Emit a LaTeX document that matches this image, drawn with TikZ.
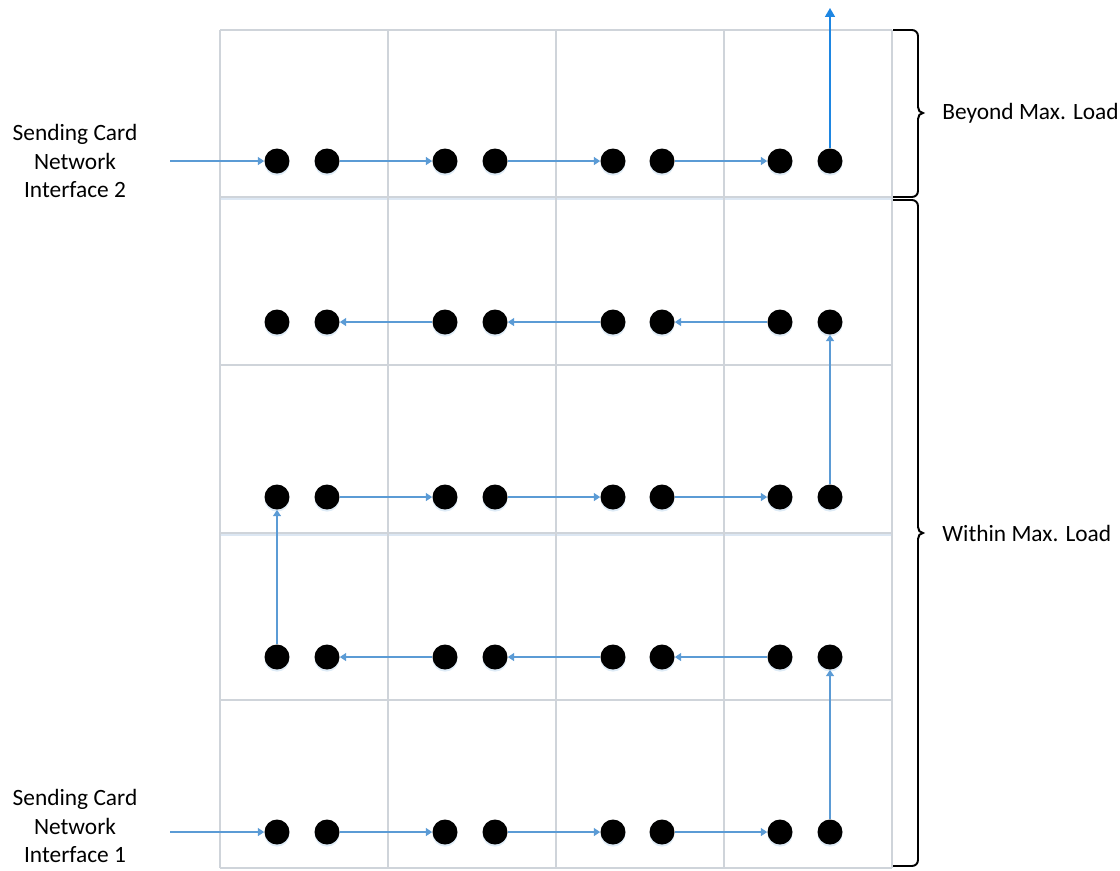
\documentclass[tikz,border=0pt]{standalone}
\usepackage{fontspec}
\setmainfont{Carlito}
\usetikzlibrary{positioning,arrows.meta,shadows}

\definecolor{gridline}{HTML}{CFD4DA}
\definecolor{glowline}{HTML}{DCE7F3}
\definecolor{flowblue}{HTML}{5B9BD5}
\definecolor{outblue}{HTML}{1E86E2}

\begin{document}
\begin{tikzpicture}[
  x=0.02cm, y=-0.02cm,
  font=\fontsize{13.3}{16}\selectfont,
  cell/.style={draw=gridline, line width=0.6pt},
  dot/.style={circle, fill=black, inner sep=0pt, minimum size=0.5cm,
              drop shadow={fill=flowblue!40, opacity=0.5, shadow xshift=0pt, shadow yshift=-1.2pt}},
  flow/.style={draw=flowblue, line width=0.7pt, -{Triangle[length=3.6pt,width=4.6pt]}},
  outflow/.style={draw=outblue, line width=0.8pt, -{Triangle[length=5pt,width=5.6pt]}},
  loadbrace/.style={draw=black, line width=1.1pt},
  side/.style={align=center, inner sep=0pt}
]
\useasboundingbox (0,0) rectangle (1120,870);

% cabinet grid
\draw[glowline, line width=1pt] (220,199) -- (892,199);
\draw[glowline, line width=1pt] (220,535) -- (892,535);
\foreach \x in {220,388,556,724,892}
  \draw[cell] (\x,30) -- (\x,868);
\foreach \y in {30,197,365,533,700,868}
  \draw[cell] (220,\y) -- (892,\y);

% receiving cards: row r (top to bottom), position c
\foreach \r/\y in {1/161,2/322,3/497,4/657,5/832}
  \foreach \c/\x in {1/277,2/327,3/445,4/495,5/613,6/662,7/780,8/830}
    \node[dot] (d\r\c) at (\x,\y) {};

% sending card ports
\node[side] (nic2) at (75,161) {Sending Card\\Network\\Interface 2};
\node[side] (nic1) at (75,826) {Sending Card\\Network\\Interface 1};
\coordinate (in2) at (170,161);
\coordinate (in1) at (170,832);
\coordinate (out) at (830,8);

% daisy chain
\draw[flow] (in1) -- (d51);
\draw[flow] (in2) -- (d11);
\foreach \r in {1,3,5}
  \foreach \a/\b in {2/3,4/5,6/7}
    \draw[flow] (d\r\a) -- (d\r\b);
\foreach \r in {2,4}
  \foreach \a/\b in {7/6,5/4,3/2}
    \draw[flow] (d\r\a) -- (d\r\b);
\draw[flow] (d58) -- (d48);
\draw[flow] (d41) -- (d31);
\draw[flow] (d38) -- (d28);
\draw[outflow] (d18) -- (out);

% load braces
\draw[loadbrace] (893,30) -- (912,30) to[out=0,in=90] (918,36) -- (918,107)
  to[out=-90,in=180] (923,113) to[out=180,in=90] (918,119) -- (918,191)
  to[out=-90,in=0] (912,197) -- (893,197);
\draw[loadbrace] (893,200) -- (912,200) to[out=0,in=90] (918,206) -- (918,527)
  to[out=-90,in=180] (923,533) to[out=180,in=90] (918,539) -- (918,860)
  to[out=-90,in=0] (912,866) -- (893,866);
\node[anchor=west, inner sep=0pt] (beyond) at (942,113) {Beyond Max. Load};
\node[anchor=west, inner sep=0pt] (within) at (942,533) {Within Max. Load};
\end{tikzpicture}
\end{document}
